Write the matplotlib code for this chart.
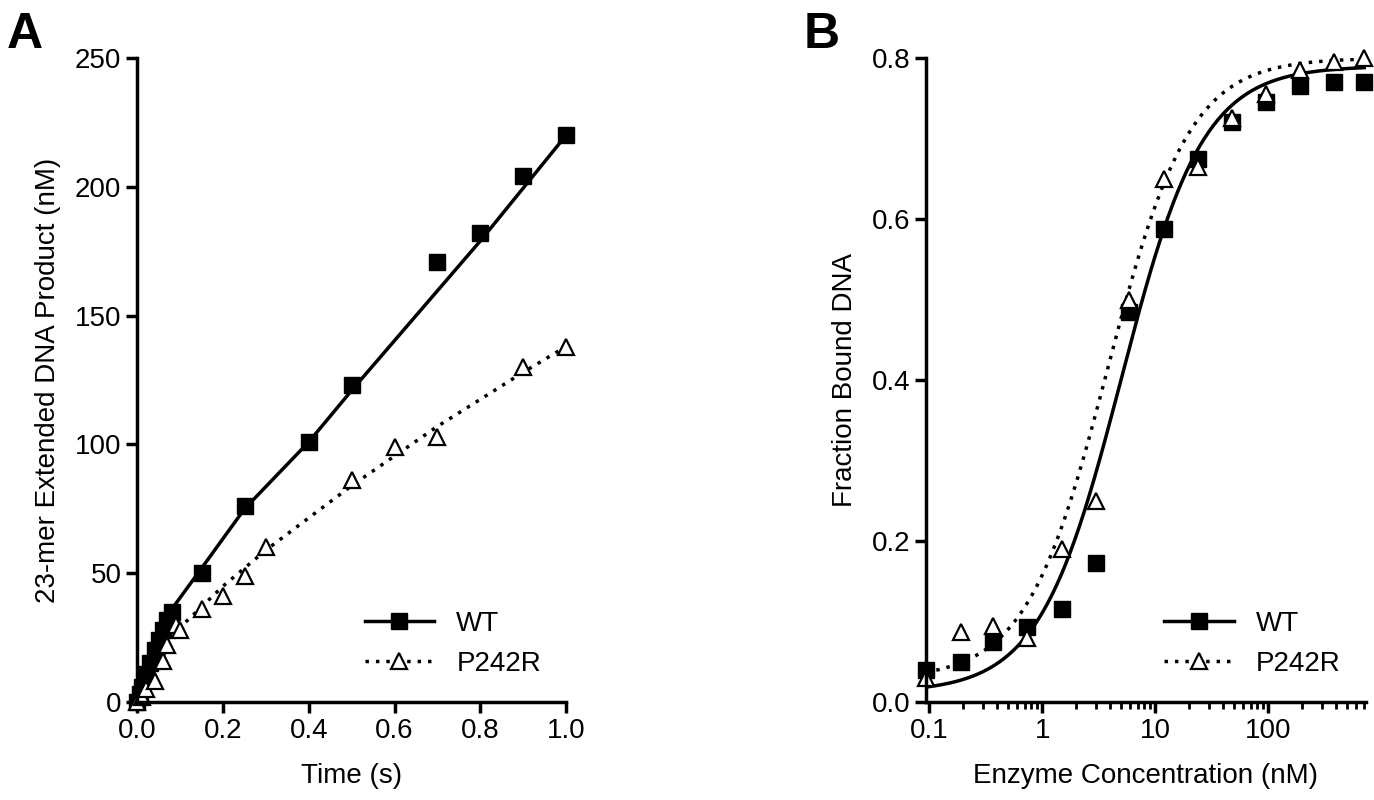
import numpy as np
import matplotlib.pyplot as plt
from matplotlib.ticker import LogLocator, NullFormatter

plt.rcParams['font.family'] = ['Liberation Sans', 'DejaVu Sans']
plt.rcParams['font.size'] = 20

# panel A: time course
time_wt = [0, 0.005, 0.01, 0.02, 0.03, 0.04, 0.05, 0.06, 0.07, 0.08, 0.15, 0.25, 0.4, 0.5, 0.7, 0.8, 0.9, 1.0]
prod_wt = [0, 3, 6, 11, 15, 20, 24, 28, 32, 35, 50, 76, 101, 123, 171, 182, 204, 220]
time_mut = [0, 0.01, 0.02, 0.04, 0.06, 0.07, 0.09, 0.1, 0.15, 0.2, 0.25, 0.3, 0.5, 0.6, 0.7, 0.9, 1.0]
prod_mut = [0, 2, 5, 8, 16, 22, 30, 28, 36, 41, 49, 60, 86, 99, 103, 130, 138]
# fit lines of panel A
fit_t_wt = [0, 0.04, 0.08, 0.15, 0.25, 0.4, 0.5, 0.8, 1.0]
fit_wt = [0, 20, 36, 52, 75, 101, 121, 179, 220]
fit_t_mut = [0, 0.05, 0.1, 0.2, 0.3, 0.5, 0.7, 0.9, 1.0]
fit_mut = [0, 15, 29, 45, 59, 84, 107, 128, 138]

# panel B: binding titration
conc = [0.093, 0.19, 0.37, 0.74, 1.5, 3.0, 5.9, 12, 24, 48, 95, 190, 380, 700]
frac_wt = [0.04, 0.05, 0.075, 0.093, 0.115, 0.173, 0.485, 0.587, 0.675, 0.72, 0.745, 0.765, 0.77, 0.77]
frac_mut = [0.03, 0.087, 0.095, 0.08, 0.19, 0.25, 0.5, 0.65, 0.665, 0.725, 0.755, 0.785, 0.795, 0.80]
# fitted binding parameters (bottom, top, Kd, hill)
fit_par_wt = (0.012, 0.79, 5.0, 1.2)
fit_par_mut = (0.028, 0.80, 3.8, 1.2)

fig = plt.figure(figsize=(13.74, 8.0), dpi=100)
ax1 = fig.add_axes([0.1, 0.1225, 0.312, 0.805])
ax2 = fig.add_axes([0.674, 0.1225, 0.32, 0.805])

ax1.plot(fit_t_wt, fit_wt, color='black', lw=2.5, ls='-', clip_on=False)
ax1.plot(fit_t_mut, fit_mut, color='black', lw=2.5, ls=(0, (1, 2)), clip_on=False)
ax1.plot(time_wt, prod_wt, 's', color='black', ms=11, ls='none', clip_on=False)
ax1.plot(time_mut, prod_mut, '^', mfc='white', mec='black', mew=1.6, ms=12, ls='none', clip_on=False)
ax1.plot([], [], marker='s', color='black', ms=11, lw=2.5, label='WT')
ax1.plot([], [], marker='^', mfc='white', mec='black', mew=1.6, ms=12, color='black', lw=2.5, ls=(0, (1, 2)), label='P242R')
ax1.set_xlim(0, 1.0)
ax1.set_ylim(0, 250)
ax1.set_xticks([0.0, 0.2, 0.4, 0.6, 0.8, 1.0])
ax1.set_yticks([0, 50, 100, 150, 200, 250])
ax1.set_xlabel('Time (s)', labelpad=14)
ax1.set_ylabel('23-mer Extended DNA Product (nM)', labelpad=10)
ax1.legend(loc='lower right', frameon=False, handlelength=2.5)

xs = np.logspace(np.log10(0.094), np.log10(730), 300)
for (b, t, k, h), ls in [(fit_par_wt, '-'), (fit_par_mut, (0, (1, 2)))]:
    ax2.plot(xs, b + (t - b) * xs**h / (k**h + xs**h), color='black', lw=2.5, ls=ls)
ax2.plot(conc, frac_wt, 's', color='black', ms=11, ls='none', clip_on=False)
ax2.plot(conc, frac_mut, '^', mfc='white', mec='black', mew=1.6, ms=12, ls='none', clip_on=False)
ax2.plot([], [], marker='s', color='black', ms=11, lw=2.5, label='WT')
ax2.plot([], [], marker='^', mfc='white', mec='black', mew=1.6, ms=12, color='black', lw=2.5, ls=(0, (1, 2)), label='P242R')
ax2.set_xscale('log')
ax2.set_xlim(0.094, 730)
ax2.set_ylim(0, 0.8)
ax2.set_xticks([0.1, 1, 10, 100])
ax2.set_xticklabels(['0.1', '1', '10', '100'])
ax2.xaxis.set_minor_locator(LogLocator(base=10, subs=np.arange(2, 10)))
ax2.xaxis.set_minor_formatter(NullFormatter())
ax2.set_yticks([0.0, 0.2, 0.4, 0.6, 0.8])
ax2.set_xlabel('Enzyme Concentration (nM)', labelpad=14)
ax2.set_ylabel('Fraction Bound DNA', labelpad=10)
ax2.legend(loc='lower right', frameon=False, handlelength=2.5)

for ax in (ax1, ax2):
    ax.spines[['right', 'top']].set_visible(False)
    for s in ('left', 'bottom'):
        ax.spines[s].set_linewidth(2.5)
    ax.tick_params(width=2.5, length=8, direction='out')
    ax.tick_params(which='minor', width=2, length=5)

fig.text(0.005, 0.94, 'A', fontsize=36, fontweight='bold')
fig.text(0.585, 0.94, 'B', fontsize=36, fontweight='bold')

fig.savefig('out.png')
